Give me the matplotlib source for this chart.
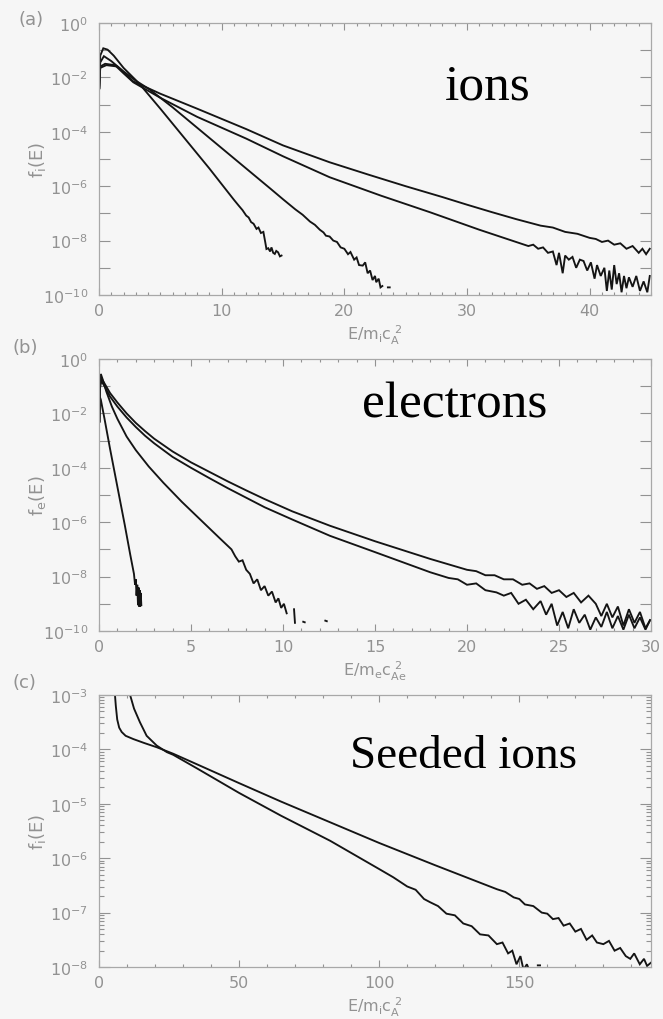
import numpy as np
import matplotlib
matplotlib.use('Agg')
import matplotlib.pyplot as plt
from matplotlib import font_manager
from matplotlib.ticker import MultipleLocator, LogLocator, FuncFormatter, NullLocator, NullFormatter

nan = float('nan')

# ---------------- Panel (a): ions, log10 f_i(E) vs E/m_i c_A^2 ----------------
a1_x = [0.02, 0.1, 0.35, 0.7, 1.2, 2.0, 3.0, 3.6, 5.0, 7.0, 9.0, 11.0, 11.4, 11.7, 12.0, 12.2, 12.4, 12.6,
        12.84, 13.0, 13.2, 13.4, 13.55, 13.65, 13.8, 13.95, 14.06, 14.2, 14.33, 14.45, 14.6, 14.75, 14.88]
a1_y = [-2.4, -1.2, -0.93, -0.98, -1.2, -1.65, -2.1, -2.4, -3.15, -4.25, -5.35, -6.5, -6.72, -6.88, -7.08,
        -7.15, -7.32, -7.38, -7.57, -7.52, -7.72, -7.68, -8.05, -8.31, -8.28, -8.4, -8.25, -8.45, -8.49,
        -8.38, -8.43, -8.58, -8.55]

a2_x = [0.02, 0.1, 0.4, 1.0, 2.0, 3.0, 4.15, 6.0, 8.0, 10.0, 12.0, 14.0, 15.0, 16.0, 16.6, 17.2, 17.6, 18.0,
        18.3, 18.5, 18.8, 19.1, 19.4, 19.7, 20.0, 20.3, 20.5, 20.8, 21.0, 21.2, 21.5, 21.7, 21.9, 22.1, 22.3,
        22.5, 22.6, 22.8, 22.95, 23.1, nan, 23.55, 23.7]
a2_y = [-2.4, -1.45, -1.22, -1.4, -1.78, -2.12, -2.45, -3.1, -3.85, -4.6, -5.35, -6.1, -6.48, -6.85, -7.05,
        -7.3, -7.42, -7.6, -7.7, -7.82, -7.85, -8.0, -8.05, -8.25, -8.3, -8.5, -8.42, -8.7, -8.62, -8.9,
        -8.92, -8.8, -9.2, -9.1, -9.45, -9.3, -9.53, -9.4, -9.72, -9.67, nan, -9.72, -9.72]

a3_x = [0.02, 0.1, 0.5, 1.3, 2.0, 2.8, 5.0, 8.0, 12.0, 15.0, 18.8, 23.0, 27.0, 31.0, 34.0, 35.0, 35.4, 35.8,
        36.2, 36.6, 37.0, 37.3, 37.5, 37.8, 38.0, 38.3, 38.6, 38.9, 39.2, 39.5, 39.8, 40.1, 40.4, 40.6, 40.9,
        41.2, 41.4, 41.6, 41.8, 42.0, 42.2, 42.4, 42.6, 42.8, 43.0, 43.2, 43.5, 43.8, 44.1, 44.4, 44.7, 44.9]
a3_y = [-2.4, -1.6, -1.5, -1.55, -1.85, -2.18, -2.75, -3.45, -4.25, -4.9, -5.67, -6.35, -6.96, -7.6, -8.05,
        -8.2, -8.15, -8.3, -8.25, -8.45, -8.4, -8.9, -8.45, -9.2, -8.55, -8.7, -8.6, -9.0, -8.7, -8.75, -9.1,
        -8.8, -9.4, -8.9, -9.3, -9.0, -9.85, -9.1, -9.8, -8.9, -9.6, -9.2, -9.9, -9.3, -9.75, -9.35, -9.7,
        -9.3, -9.85, -9.5, -9.9, -9.3]

a4_x = [0.02, 0.1, 0.6, 1.5, 2.8, 5.0, 8.0, 12.0, 15.0, 18.8, 22.0, 25.0, 28.0, 30.0, 32.0, 34.0, 35.0, 36.0,
        37.0, 38.0, 39.0, 40.0, 40.5, 41.0, 41.5, 42.0, 42.5, 43.0, 43.5, 44.0, 44.3, 44.6, 44.9]
a4_y = [-2.4, -1.65, -1.55, -1.6, -2.15, -2.6, -3.15, -3.9, -4.5, -5.12, -5.58, -6.0, -6.4, -6.68, -6.95,
        -7.21, -7.33, -7.45, -7.52, -7.68, -7.75, -7.9, -7.94, -8.05, -8.0, -8.15, -8.1, -8.3, -8.2, -8.45,
        -8.3, -8.5, -8.3]

# ---------------- Panel (b): electrons, log10 f_e(E) vs E/m_e c_Ae^2 ----------------
b1_x = [0.02, 0.05, 0.1, 0.3, 0.6, 1.0, 1.4, 1.7, 1.9, 1.96, 2.0, 2.04, 2.08, 2.12, 2.15, 2.18, 2.21, 2.24,
        2.27, 2.3]
b1_y = [-2.3, -1.4, -1.5, -2.2, -3.3, -4.7, -6.1, -7.2, -7.9, -8.3, -8.1, -8.7, -8.3, -9.05, -8.4, -9.1,
        -8.5, -9.1, -8.6, -9.05]

b2_x = [0.02, 0.05, 0.1, 0.2, 0.4, 0.7, 1.0, 1.5, 2.0, 2.7, 3.5, 4.5, 5.5, 6.5, 7.2, 7.4, 7.6, 7.8, 8.0,
        8.2, 8.4, 8.6, 8.8, 9.0, 9.2, 9.4, 9.6, 9.75, 9.9, 10.05, 10.2, nan, 10.6, 10.65, nan, 11.1, 11.18,
        nan, 12.3, 12.38]
b2_y = [-2.3, -1.0, -0.55, -0.75, -1.2, -1.75, -2.2, -2.85, -3.35, -3.95, -4.55, -5.25, -5.9, -6.55, -7.0,
        -7.25, -7.45, -7.4, -7.75, -7.9, -8.25, -8.1, -8.5, -8.35, -8.7, -8.55, -8.95, -8.8, -9.15, -9.0,
        -9.35, nan, -9.2, -9.7, nan, -9.66, -9.68, nan, -9.62, -9.64]

b3_x = [0.02, 0.05, 0.12, 0.3, 0.6, 1.0, 1.5, 2.0, 2.5, 3.0, 4.0, 5.0, 6.0, 7.0, 8.0, 9.0, 10.5, 12.55,
        15.0, 18.0, 20.0, 20.5, 21.0, 21.5, 22.0, 22.5, 23.0, 23.4, 23.8, 24.2, 24.6, 25.0, 25.4, 25.8, 26.2,
        26.6, 27.0, 27.3, 27.6, 27.9, 28.2, 28.5, 28.8, 29.1, 29.4, 29.7, 29.95]
b3_y = [-2.3, -1.0, -0.7, -0.9, -1.25, -1.6, -2.0, -2.35, -2.65, -2.93, -3.4, -3.8, -4.15, -4.5, -4.83,
        -5.15, -5.6, -6.13, -6.7, -7.35, -7.75, -7.8, -7.95, -7.95, -8.1, -8.1, -8.3, -8.25, -8.45, -8.35,
        -8.6, -8.5, -8.75, -8.6, -8.95, -8.7, -9.0, -9.45, -9.0, -9.5, -9.1, -9.8, -9.2, -9.7, -9.3, -9.9,
        -9.6]

b4_x = [0.02, 0.05, 0.12, 0.3, 0.6, 1.0, 1.5, 2.0, 2.5, 3.0, 4.0, 5.0, 6.0, 7.0, 8.0, 9.0, 10.5, 12.55,
        15.0, 18.0, 19.0, 19.5, 20.0, 20.5, 21.0, 21.6, 22.0, 22.4, 22.8, 23.2, 23.6, 24.0, 24.3, 24.6, 24.9,
        25.2, 25.5, 25.8, 26.1, 26.4, 26.7, 27.0, 27.3, 27.6, 27.9, 28.2, 28.5, 28.8, 29.1, 29.4, 29.7, 29.95]
b4_y = [-2.3, -1.1, -0.8, -1.0, -1.38, -1.75, -2.15, -2.5, -2.82, -3.1, -3.6, -4.0, -4.38, -4.75, -5.1,
        -5.45, -5.9, -6.5, -7.1, -7.84, -8.05, -8.1, -8.3, -8.25, -8.5, -8.58, -8.7, -8.6, -9.0, -8.85, -9.2,
        -8.9, -9.4, -9.0, -9.8, -9.3, -9.9, -9.2, -9.7, -9.4, -9.95, -9.5, -9.85, -9.3, -9.9, -9.45, -9.95,
        -9.4, -9.9, -9.5, -9.95, -9.6]

# ---------------- Panel (c): seeded ions ----------------
c1_x = [5.5, 5.7, 6.0, 6.5, 7.2, 8.1, 9.5, 12.25, 16.0, 20.6, 26.5, 36.1, 50.0, 65.0, 82.5, 100.0, 120.0,
        142.0, 145.0, 148.0, 150.0, 152.0, 155.0, 158.0, 160.0, 162.0, 164.0, 165.8, 168.0, 170.0, 172.0,
        174.0, 176.0, 177.7, 180.0, 182.0, 184.0, 186.0, 188.0, 189.6, 191.0, 193.0, 194.5, 195.6, 197.0]
c1_y = [-2.5, -3.0, -3.2, -3.45, -3.6, -3.68, -3.75, -3.81, -3.88, -3.96, -4.08, -4.30, -4.62, -4.96, -5.34,
        -5.72, -6.13, -6.57, -6.62, -6.72, -6.75, -6.85, -6.88, -7.0, -7.02, -7.12, -7.1, -7.24, -7.2, -7.35,
        -7.3, -7.5, -7.42, -7.55, -7.58, -7.52, -7.7, -7.65, -7.8, -7.85, -7.75, -7.95, -7.85, -7.98, -7.92]

c2_x = [10.5, 11.1, 12.5, 14.6, 17.0, 20.6, 24.2, 26.5, 35.0, 50.0, 65.0, 82.5, 100.0, 105.0, 110.0, 113.0,
        116.0, 118.2, 121.0, 124.0, 127.0, 130.0, 133.0, 136.0, 139.0, 142.0, 144.0, 146.0, 147.5, 149.0,
        150.4, 151.5, 152.7, 153.5, nan, 156.6, 157.4]
c2_y = [-2.5, -3.0, -3.25, -3.5, -3.75, -3.93, -4.05, -4.1, -4.35, -4.8, -5.22, -5.68, -6.2, -6.35, -6.52,
        -6.58, -6.75, -6.81, -6.88, -7.02, -7.05, -7.2, -7.25, -7.4, -7.42, -7.58, -7.55, -7.75, -7.7, -7.95,
        -7.8, -8.05, -7.95, -8.05, nan, -7.97, -7.97]

panel_labels = ['(a)', '(b)', '(c)']
species_text = ['ions', 'electrons', 'Seeded ions']
ylabels = [r'$\mathregular{f_i(E)}$', r'$\mathregular{f_e(E)}$', r'$\mathregular{f_i(E)}$']
xlabels = [r'$\mathregular{E/m_ic_A^{\ 2}}$', r'$\mathregular{E/m_ec_{Ae}^{\ 2}}$',
           r'$\mathregular{E/m_ic_A^{\ 2}}$']

# narrow sans font for tick labels (close to IDL vector font)
avail = {f.name for f in font_manager.fontManager.ttflist}
TICKFONT = 'Liberation Sans Narrow' if 'Liberation Sans Narrow' in avail else 'DejaVu Sans'
plt.rcParams['mathtext.fontset'] = 'custom'
plt.rcParams['mathtext.rm'] = 'DejaVu Sans'
plt.rcParams['mathtext.it'] = 'DejaVu Sans'

BG = '#f6f6f6'
GRAY = '#929292'
LINE = '#141414'

fig = plt.figure(figsize=(6.63, 10.2), dpi=100, facecolor=BG)
W, H = 663.0, 1020.0
L, R = 99, 651
tops = [24, 360, 696]
bots = [296, 632, 968]

xlims = [(0, 45), (0, 30), (0, 197)]
ylims = [(-10, 0), (-10, 0), (-8, -3)]
xmaj = [10, 5, 50]
xmin = [1, 1, 10]
curves = [[(a1_x, a1_y), (a2_x, a2_y), (a3_x, a3_y), (a4_x, a4_y)],
          [(b1_x, b1_y), (b2_x, b2_y), (b3_x, b3_y), (b4_x, b4_y)],
          [(c1_x, c1_y), (c2_x, c2_y)]]
label_every = [2, 2, 1]
text_pos = [(445, 100, 37), (362, 417, 37), (350, 768, 34)]
plab_pos = [(18, 20), (12, 348), (12, 683)]


def make_fmt(step):
    def f(v, pos):
        if v <= 0:
            return ''
        e = int(round(np.log10(v)))
        if e % step != 0:
            return ''
        return '10$^{%s}$' % (('\u2212%d' % -e) if e < 0 else '%d' % e)
    return f


for i in range(3):
    ax = fig.add_axes([L / W, 1 - bots[i] / H, (R - L) / W, (bots[i] - tops[i]) / H])
    ax.set_facecolor(BG)
    for (xs, ys) in curves[i]:
        ax.plot(np.array(xs), 10.0 ** np.array(ys), color=LINE, lw=1.35, solid_joinstyle='miter')
    ax.set_yscale('log')
    ax.set_xlim(*xlims[i])
    ax.set_ylim(10.0 ** ylims[i][0], 10.0 ** ylims[i][1])
    ax.xaxis.set_major_locator(MultipleLocator(xmaj[i]))
    ax.xaxis.set_minor_locator(MultipleLocator(xmin[i]))
    ax.yaxis.set_major_locator(LogLocator(base=10, numticks=30))
    ax.yaxis.set_major_formatter(FuncFormatter(make_fmt(label_every[i])))
    if i == 2:
        ax.yaxis.set_minor_locator(LogLocator(base=10, subs=np.arange(2, 10), numticks=30))
    else:
        ax.yaxis.set_minor_locator(NullLocator())
    ax.yaxis.set_minor_formatter(NullFormatter())
    ax.tick_params(axis='both', which='both', direction='in', top=True, right=True,
                   color=GRAY, labelcolor=GRAY, labelsize=11.5, width=0.8)
    ax.tick_params(axis='x', which='major', length=5, pad=6)
    ax.tick_params(axis='x', which='minor', length=2.5)
    ax.tick_params(axis='y', which='major', length=8, pad=8)
    ax.tick_params(axis='y', which='minor', length=3.5)
    for lab in ax.get_xticklabels() + ax.get_yticklabels():
        lab.set_fontfamily(TICKFONT)
    for s in ax.spines.values():
        s.set_color('#a8a8a8')
        s.set_linewidth(0.9)
    ax.text(0.5, -0.145, xlabels[i], transform=ax.transAxes, ha='center', va='center',
            fontsize=11.5, color=GRAY)
    ax.text(-0.112, 0.5, ylabels[i], transform=ax.transAxes, ha='center', va='center',
            rotation=90, fontsize=13, color=GRAY)
    tx, ty, fs = text_pos[i]
    fig.text(tx / W, 1 - ty / H, species_text[i], ha='left', va='baseline', fontsize=fs,
             family='Liberation Serif', color='black')
    px, py = plab_pos[i]
    fig.text(px / W, 1 - py / H, panel_labels[i], ha='left', va='center', fontsize=13, color=GRAY)

fig.savefig('out.png', dpi=100, facecolor=BG)
